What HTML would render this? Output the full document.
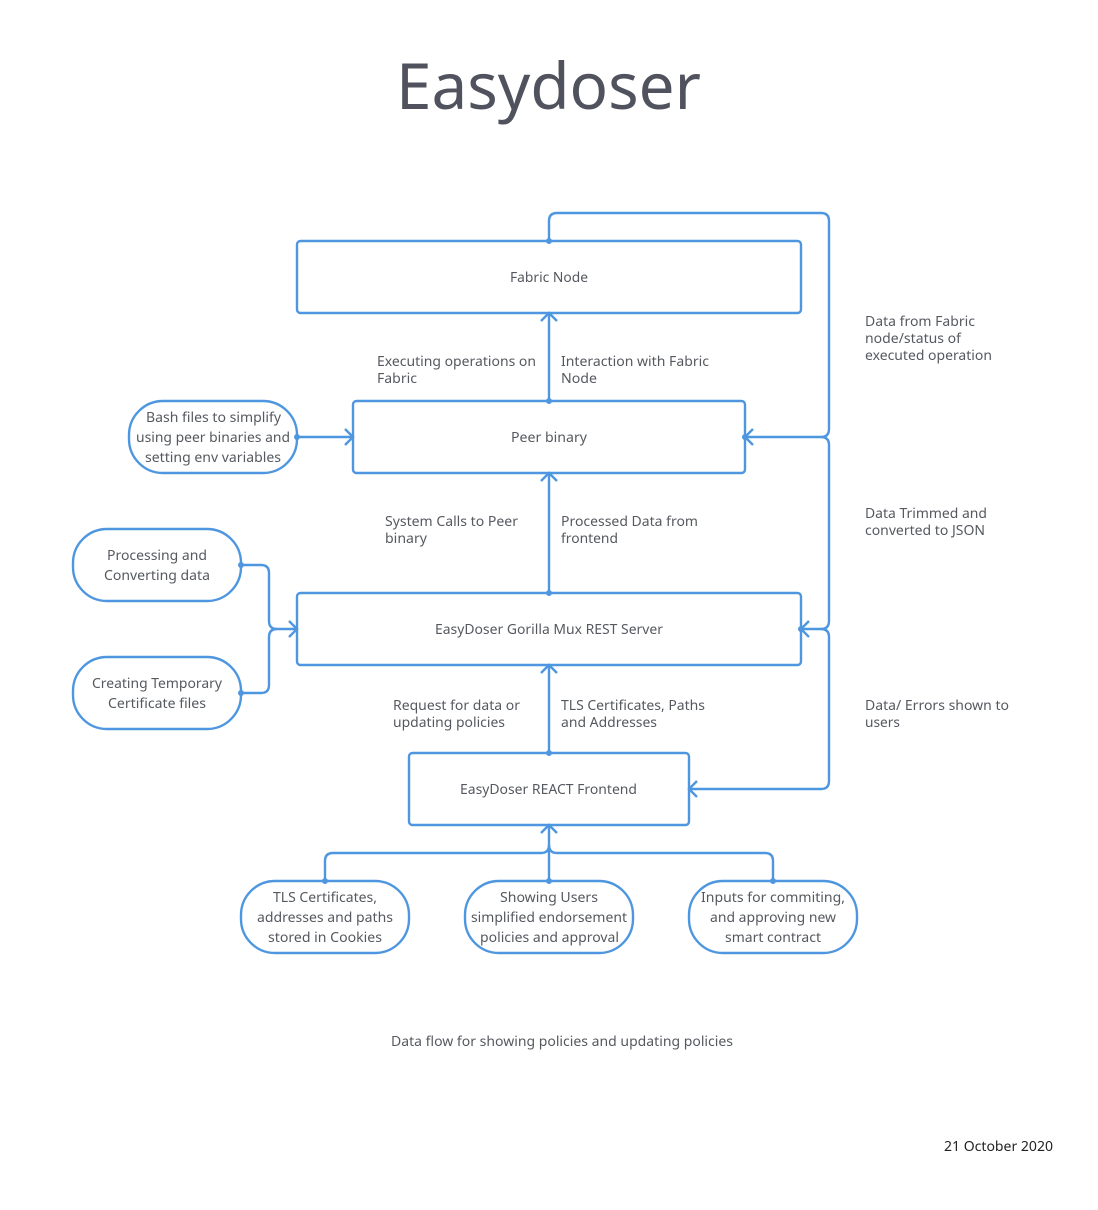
<!DOCTYPE html>
<html>
<head>
<meta charset="utf-8">
<style>
html,body{margin:0;padding:0;background:#fff;width:1098px;height:1210px;overflow:hidden}
svg{display:block}
text{font-family:"Noto Sans","Open Sans","DejaVu Sans","Liberation Sans",sans-serif;font-size:14px;fill:#55595f}
.s{fill:#fff;stroke:#4e97e0;stroke-width:2.4}
.l{fill:none;stroke:#4e97e0;stroke-width:2.4}
.d{fill:#4e97e0}
</style>
</head>
<body>
<svg width="1098" height="1210" viewBox="0 0 1098 1210" xmlns="http://www.w3.org/2000/svg">
<rect class="s" x="297" y="241" width="504" height="72" rx="3.5"/>
<rect class="s" x="353" y="401" width="392" height="72" rx="3.5"/>
<rect class="s" x="297" y="593" width="504" height="72" rx="3.5"/>
<rect class="s" x="409" y="753" width="280" height="72" rx="3.5"/>
<rect class="s" x="129" y="401" width="168" height="72" rx="34"/>
<rect class="s" x="73" y="529" width="168" height="72" rx="34"/>
<rect class="s" x="73" y="657" width="168" height="72" rx="34"/>
<rect class="s" x="241" y="881" width="168" height="72" rx="34"/>
<rect class="s" x="465" y="881" width="168" height="72" rx="34"/>
<rect class="s" x="689" y="881" width="168" height="72" rx="34"/>

<path class="l" d="M549 241V221Q549 213 557 213H821Q829 213 829 221V429Q829 437 821 437H745"/>
<path class="l" d="M801 629H821Q829 629 829 621V445Q829 437 821 437"/>
<path class="l" d="M689 789H821Q829 789 829 781V637Q829 629 821 629"/>
<path class="l" d="M753 429L745 437L753 445M809 621L801 629L809 637M697 781L689 789L697 797"/>
<path class="l" d="M549 401V313M541 321L549 313L557 321"/>
<path class="l" d="M549 593V473M541 481L549 473L557 481"/>
<path class="l" d="M549 753V665M541 673L549 665L557 673"/>
<path class="l" d="M297 437H353M345 429L353 437L345 445"/>
<path class="l" d="M241 565H261Q269 565 269 573V621Q269 629 277 629H297M289 621L297 629L289 637"/>
<path class="l" d="M241 693H261Q269 693 269 685V637Q269 629 277 629"/>
<path class="l" d="M549 881V825M541 833L549 825L557 833"/>
<path class="l" d="M325 881V861Q325 853 333 853H541Q549 853 549 845"/>
<path class="l" d="M773 881V861Q773 853 765 853H557Q549 853 549 845"/>
<g class="d">
<circle cx="549" cy="241" r="3"/><circle cx="745" cy="437" r="3"/><circle cx="801" cy="629" r="3"/>
<circle cx="549" cy="401" r="3"/><circle cx="549" cy="593" r="3"/><circle cx="549" cy="753" r="3"/>
<circle cx="297" cy="437" r="3"/><circle cx="241" cy="565" r="3"/><circle cx="241" cy="693" r="3"/>
<circle cx="325" cy="881" r="3"/><circle cx="549" cy="881" r="3"/><circle cx="773" cy="881" r="3"/>
</g>

<text x="396" y="109" textLength="305" lengthAdjust="spacingAndGlyphs" style="font-size:64px;fill:#50535e">Easydoser</text>

<text x="510" y="282" textLength="78" lengthAdjust="spacingAndGlyphs">Fabric Node</text>
<text x="511" y="442" textLength="76" lengthAdjust="spacingAndGlyphs">Peer binary</text>
<text x="435" y="634" textLength="228" lengthAdjust="spacingAndGlyphs">EasyDoser Gorilla Mux REST Server</text>
<text x="460" y="794" textLength="177" lengthAdjust="spacingAndGlyphs">EasyDoser REACT Frontend</text>

<text x="377" y="366" textLength="159" lengthAdjust="spacingAndGlyphs">Executing operations on</text>
<text x="377" y="383" textLength="40" lengthAdjust="spacingAndGlyphs">Fabric</text>
<text x="561" y="366" textLength="148" lengthAdjust="spacingAndGlyphs">Interaction with Fabric</text>
<text x="561" y="383" textLength="36" lengthAdjust="spacingAndGlyphs">Node</text>
<text x="865" y="326" textLength="110" lengthAdjust="spacingAndGlyphs">Data from Fabric</text>
<text x="865" y="343" textLength="96" lengthAdjust="spacingAndGlyphs">node/status of</text>
<text x="865" y="360" textLength="127" lengthAdjust="spacingAndGlyphs">executed operation</text>
<text x="385" y="526" textLength="133" lengthAdjust="spacingAndGlyphs">System Calls to Peer</text>
<text x="385" y="543" textLength="42" lengthAdjust="spacingAndGlyphs">binary</text>
<text x="561" y="526" textLength="137" lengthAdjust="spacingAndGlyphs">Processed Data from</text>
<text x="561" y="543" textLength="57" lengthAdjust="spacingAndGlyphs">frontend</text>
<text x="865" y="518" textLength="122" lengthAdjust="spacingAndGlyphs">Data Trimmed and</text>
<text x="865" y="535" textLength="120" lengthAdjust="spacingAndGlyphs">converted to JSON</text>
<text x="393" y="710" textLength="127" lengthAdjust="spacingAndGlyphs">Request for data or</text>
<text x="393" y="727" textLength="112" lengthAdjust="spacingAndGlyphs">updating policies</text>
<text x="561" y="710" textLength="144" lengthAdjust="spacingAndGlyphs">TLS Certificates, Paths</text>
<text x="561" y="727" textLength="96" lengthAdjust="spacingAndGlyphs">and Addresses</text>
<text x="865" y="710" textLength="144" lengthAdjust="spacingAndGlyphs">Data/ Errors shown to</text>
<text x="865" y="727" textLength="35" lengthAdjust="spacingAndGlyphs">users</text>

<text x="146" y="422" textLength="135" lengthAdjust="spacingAndGlyphs">Bash files to simplify</text>
<text x="136" y="442" textLength="154" lengthAdjust="spacingAndGlyphs">using peer binaries and</text>
<text x="145" y="462" textLength="136" lengthAdjust="spacingAndGlyphs">setting env variables</text>
<text x="107" y="560" textLength="100" lengthAdjust="spacingAndGlyphs">Processing and</text>
<text x="104" y="580" textLength="106" lengthAdjust="spacingAndGlyphs">Converting data</text>
<text x="92" y="688" textLength="130" lengthAdjust="spacingAndGlyphs">Creating Temporary</text>
<text x="108" y="708" textLength="98" lengthAdjust="spacingAndGlyphs">Certificate files</text>
<text x="273" y="902" textLength="104" lengthAdjust="spacingAndGlyphs">TLS Certificates,</text>
<text x="257" y="922" textLength="136" lengthAdjust="spacingAndGlyphs">addresses and paths</text>
<text x="268" y="942" textLength="114" lengthAdjust="spacingAndGlyphs">stored in Cookies</text>
<text x="500" y="902" textLength="98" lengthAdjust="spacingAndGlyphs">Showing Users</text>
<text x="471" y="922" textLength="156" lengthAdjust="spacingAndGlyphs">simplified endorsement</text>
<text x="480" y="942" textLength="139" lengthAdjust="spacingAndGlyphs">policies and approval</text>
<text x="701" y="902" textLength="144" lengthAdjust="spacingAndGlyphs">Inputs for commiting,</text>
<text x="710" y="922" textLength="126" lengthAdjust="spacingAndGlyphs">and approving new</text>
<text x="725" y="942" textLength="96" lengthAdjust="spacingAndGlyphs">smart contract</text>

<text x="391" y="1046" textLength="342" lengthAdjust="spacingAndGlyphs">Data flow for showing policies and updating policies</text>
<text x="944" y="1151" textLength="109" lengthAdjust="spacingAndGlyphs" style="fill:#222">21 October 2020</text>
</svg>
</body>
</html>
